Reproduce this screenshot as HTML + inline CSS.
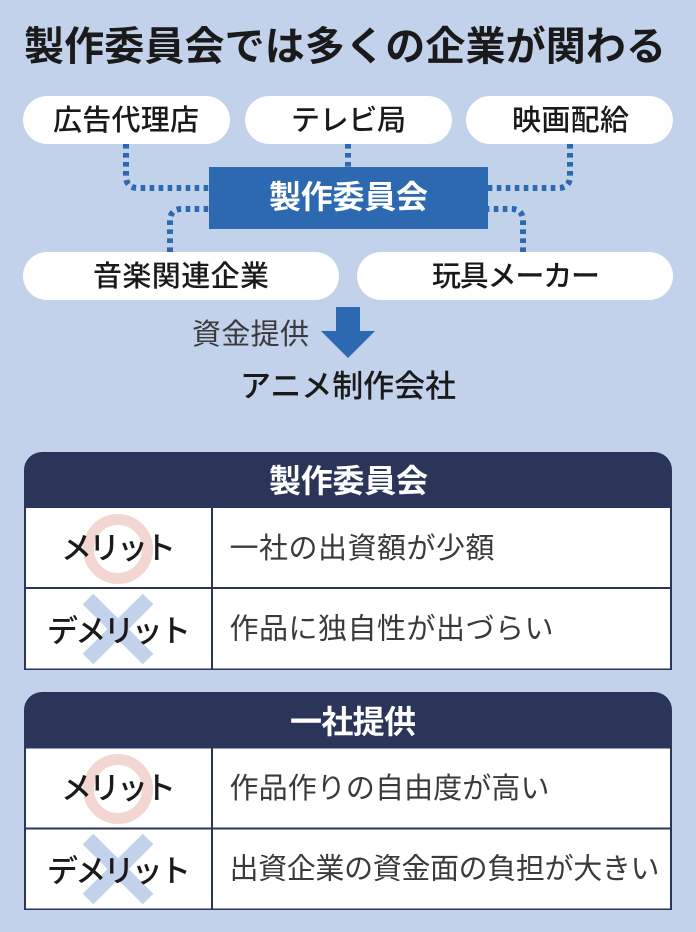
<!DOCTYPE html>
<html><head><meta charset="utf-8">
<style>
html,body{margin:0;padding:0;background:#c1d2ea;width:696px;height:932px;overflow:hidden}
svg{display:block}
text{font-family:"Liberation Sans","Noto Sans CJK JP",sans-serif;fill:#1a1a1a}
.m{font-weight:500}
.b{font-weight:700}
.w{fill:#fff;font-weight:700}
.l{font-weight:400;fill:#3a3a3a}
</style></head><body>
<svg width="696" height="932" viewBox="0 0 696 932" xmlns="http://www.w3.org/2000/svg">
<rect width="696" height="932" fill="#c1d2ea"/>
<text class="b" x="24" y="60" font-size="40" textLength="642">製作委員会では多くの企業が関わる</text>

<g fill="none" stroke="#2c69b0" stroke-width="6" stroke-dasharray="4.6 4.4">
<path d="M126 144V176Q126 188 138 188H209"/>
<path d="M348 144V167"/>
<path d="M570 144V176Q570 188 558 188H488"/>
<path d="M170 252V221Q170 209 182 209H209"/>
<path d="M523 252V221Q523 209 511 209H488"/>
</g>

<g fill="#fff">
<rect x="23" y="96" width="207" height="48" rx="24"/>
<rect x="245" y="96" width="207" height="48" rx="24"/>
<rect x="466" y="96" width="207" height="48" rx="24"/>
<rect x="23" y="252" width="316" height="48" rx="24"/>
<rect x="357" y="252" width="316" height="48" rx="24"/>
</g>
<rect x="209" y="167" width="279" height="62" fill="#2c69b0"/>

<g font-size="29" class="m">
<text x="53" y="130" textLength="146">広告代理店</text>
<text x="291" y="130" textLength="115">テレビ局</text>
<text x="512" y="130" textLength="117">映画配給</text>
<text x="93" y="286" textLength="176">音楽関連企業</text>
<text x="432" y="286" textLength="168">玩具メーカー</text>
</g>
<text class="w" x="269" y="208" font-size="32" textLength="159">製作委員会</text>

<text class="l" x="192" y="344" font-size="29" textLength="117">資金提供</text>
<polygon points="336,307 360,307 360,331 375,331 348,358 321,331 336,331" fill="#2c69b0"/>
<text class="m" x="240" y="397" font-size="31" textLength="216">アニメ制作会社</text>

<!-- table 1 -->
<path d="M24 670V470a18 18 0 0 1 18-18H654a18 18 0 0 1 18 18V670Z" fill="#2b3559"/>
<rect x="26" y="508" width="185" height="79" fill="#fff"/>
<rect x="213" y="508" width="457" height="79" fill="#fff"/>
<rect x="26" y="589" width="185" height="79.5" fill="#fff"/>
<rect x="213" y="589" width="457" height="79.5" fill="#fff"/>
<text class="w" x="269" y="492" font-size="32" textLength="159">製作委員会</text>
<circle cx="118" cy="549" r="29.5" fill="none" stroke="#f2d6d1" stroke-width="11"/>
<path d="M88 599L148 659M148 599L88 659" stroke="#c1d2ea" stroke-width="15" fill="none"/>
<text class="m" x="61" y="559" font-size="31" textLength="115">メリット</text>
<text class="m" x="47" y="642" font-size="31" textLength="144">デメリット</text>
<text class="l" x="229.5" y="558" font-size="29" textLength="265">一社の出資額が少額</text>
<text class="l" x="229.5" y="638.5" font-size="29" textLength="324">作品に独自性が出づらい</text>

<!-- table 2 -->
<path d="M24 910V710a18 18 0 0 1 18-18H654a18 18 0 0 1 18 18V910Z" fill="#2b3559"/>
<rect x="26" y="748.5" width="185" height="79" fill="#fff"/>
<rect x="213" y="748.5" width="457" height="79" fill="#fff"/>
<rect x="26" y="829.5" width="185" height="79" fill="#fff"/>
<rect x="213" y="829.5" width="457" height="79" fill="#fff"/>
<text class="w" x="290" y="733" font-size="32" textLength="126">一社提供</text>
<circle cx="118" cy="789" r="29.5" fill="none" stroke="#f2d6d1" stroke-width="11"/>
<path d="M88 839L148 899M148 839L88 899" stroke="#c1d2ea" stroke-width="15" fill="none"/>
<text class="m" x="61" y="799" font-size="31" textLength="115">メリット</text>
<text class="m" x="47" y="882" font-size="31" textLength="144">デメリット</text>
<text class="l" x="229.5" y="798" font-size="29" textLength="320">作品作りの自由度が高い</text>
<text class="l" x="229.5" y="878.5" font-size="29" textLength="430">出資企業の資金面の負担が大きい</text>
</svg>
</body></html>
